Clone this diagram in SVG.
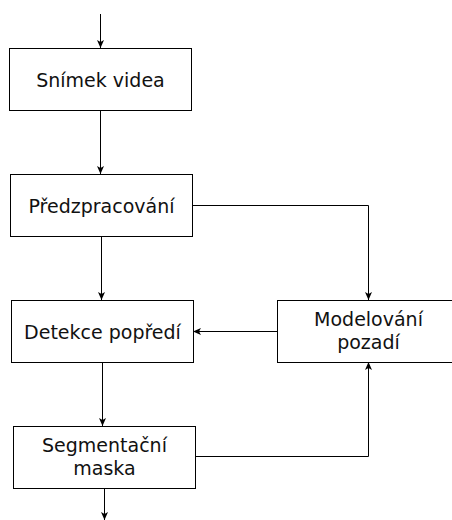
<svg xmlns="http://www.w3.org/2000/svg" width="452" height="520" viewBox="0 0 452 520">
<defs>
<style>
.box{fill:#fff;stroke:#000;stroke-width:1}
.lbl{font-family:"DejaVu Sans",Verdana,sans-serif;font-size:19px;fill:#111;text-anchor:middle}
.edge{fill:none;stroke:#000;stroke-width:1}
</style>
<marker id="arr" markerUnits="userSpaceOnUse" markerWidth="10" markerHeight="10" viewBox="0 0 10 10" refX="9" refY="5" orient="auto">
<path d="M1,1.5 L9,5 L1,8.5 L3,5 Z" fill="#000"/>
</marker>
</defs>
<g id="connectors">
<path class="edge" d="M100.5,14 V48" marker-end="url(#arr)"/>
<path class="edge" d="M100.5,110 V174" marker-end="url(#arr)"/>
<path class="edge" d="M192,205.5 H368.5 V300" marker-end="url(#arr)"/>
<path class="edge" d="M101.5,236 V300" marker-end="url(#arr)"/>
<path class="edge" d="M277,331.5 H193" marker-end="url(#arr)"/>
<path class="edge" d="M102.5,362 V426" marker-end="url(#arr)"/>
<path class="edge" d="M195,456.5 H368.5 V362" marker-end="url(#arr)"/>
<path class="edge" d="M104.5,488 V520" marker-end="url(#arr)"/>
</g>
<g id="snimek">
<rect class="box" x="9.5" y="48.5" width="182" height="62"/>
<text class="lbl" x="100.5" y="86.5">Snímek videa</text>
</g>
<g id="predzpracovani">
<rect class="box" x="10.5" y="174.5" width="182" height="62"/>
<text class="lbl" x="101.5" y="212.5">Předzpracování</text>
</g>
<g id="detekce">
<rect class="box" x="11.5" y="300.5" width="182" height="62"/>
<text class="lbl" x="102.5" y="338.5">Detekce popředí</text>
</g>
<g id="segmentacni">
<rect class="box" x="13.5" y="426.5" width="182" height="62"/>
<text class="lbl" x="104.5" y="452">Segmentační</text>
<text class="lbl" x="104.5" y="475">maska</text>
</g>
<g id="modelovani">
<rect class="box" x="277.5" y="300.5" width="182" height="62"/>
<text class="lbl" x="368.5" y="326">Modelování</text>
<text class="lbl" x="368.5" y="349">pozadí</text>
</g>
</svg>
